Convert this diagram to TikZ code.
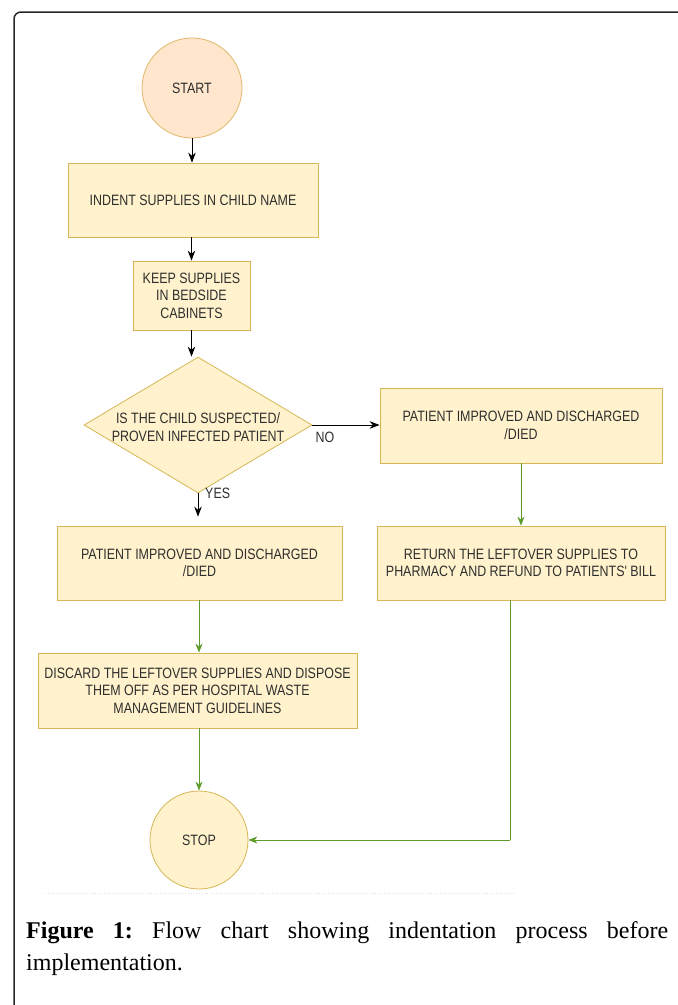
\documentclass[tikz,border=0pt]{standalone}
\usepackage{fontspec}
\setmainfont{Liberation Serif}
\newfontfamily\diafont[FakeStretch=0.83]{Liberation Sans}
\usetikzlibrary{shapes.geometric,arrows.meta}
\definecolor{boxfill}{HTML}{FFF2CC}
\definecolor{boxdraw}{HTML}{D6B656}
\definecolor{startfill}{HTML}{FFE6CC}
\definecolor{startdraw}{HTML}{E3B76B}
\definecolor{grn}{HTML}{5E9B2A}
\definecolor{txt}{HTML}{2E2E2E}
\tikzset{
  dtext/.style={font=\diafont\fontsize{15}{17.5}\selectfont, text=txt, align=center},
  proc/.style={dtext, draw=boxdraw, fill=boxfill, line width=0.8pt, inner sep=2pt},
  term/.style={dtext, circle, draw=startdraw, fill=startfill, line width=0.8pt, minimum size=100pt, inner sep=0pt},
  blk/.style={-{Stealth[length=10pt,width=7.5pt]}, line width=0.9pt, black},
  gr/.style={-{Stealth[length=9pt,width=7pt]}, line width=0.9pt, draw=grn, fill=grn},
  grl/.style={line width=0.9pt, draw=grn},
  lbl/.style={dtext, inner sep=0pt}
}
\begin{document}
\begin{tikzpicture}[x=1pt,y=-1pt]
\useasboundingbox (0,0) rectangle (678,1005);
% frame
\draw[line width=1.5pt, draw=black!85, rounded corners=7pt] (678,12) -- (14,12) -- (14,1005);
% faint dotted bound
\draw[dotted, draw=black!12, line width=0.8pt] (45,893) -- (513,893);

\node[term] (start) at (192,88) {START};
\node[proc, minimum width=250pt, minimum height=74pt] (box1) at (193,200) {INDENT SUPPLIES IN CHILD NAME};
\node[proc, minimum width=117pt, minimum height=69pt] (box2) at (191.5,295.5) {KEEP SUPPLIES\\IN BEDSIDE\\CABINETS};
\node[diamond, draw=boxdraw, fill=boxfill, line width=0.8pt, minimum width=228pt, minimum height=136pt, inner sep=0pt] (dec) at (198,425) {};
\node[dtext] (dectext) at (198,427) {IS THE CHILD SUSPECTED/\\PROVEN INFECTED PATIENT};
\node[proc, minimum width=282pt, minimum height=75pt] (box5) at (521,425.5) {PATIENT IMPROVED AND DISCHARGED\\/DIED};
\node[proc, minimum width=288pt, minimum height=74pt] (box6) at (521,563) {RETURN THE LEFTOVER SUPPLIES TO\\PHARMACY AND REFUND TO PATIENTS' BILL};
\node[proc, minimum width=285pt, minimum height=74pt] (box3) at (199.5,563) {PATIENT IMPROVED AND DISCHARGED\\/DIED};
\node[proc, minimum width=319pt, minimum height=75pt] (box4) at (197.5,690.5) {DISCARD THE LEFTOVER SUPPLIES AND DISPOSE\\THEM OFF AS PER HOSPITAL WASTE\\MANAGEMENT GUIDELINES};
\node[term, draw=boxdraw, fill=boxfill, minimum size=98pt] (stop) at (199,840) {STOP};

\node[lbl] (no) at (325,437) {NO};
\node[lbl, anchor=west] (yes) at (205,493) {YES};

% connectors
\draw[blk] (start.south) -- (start.south |- box1.north);
\draw[blk] (box1.south -| box2) -- (box2.north);
\draw[blk] (box2.south) -- (box2.south |- dec.north);
\draw[blk] (dec.east) -- (dec.east -| box5.west);
\draw[blk, shorten >=9pt] (dec.south) -- (dec.south |- box3.north);
\draw[gr] (box5.south) -- (box6.north);
\draw[gr] (box3.south -| stop) -- (stop |- box4.north);
\draw[gr] (box4.south -| stop) -- (stop.north);
\coordinate (rbend) at (510,840);
\draw[grl] (box6.south -| rbend) -- (rbend);
\draw[gr] (rbend) -- (stop.east);

% caption
\node[anchor=north west, text width=642pt, align=justify, inner sep=0pt, font=\fontsize{24}{32}\selectfont\frenchspacing] (cap) at (26,921)
  {\textbf{Figure 1:} Flow chart showing indentation process before\linebreak implementation.};
\end{tikzpicture}
\end{document}
